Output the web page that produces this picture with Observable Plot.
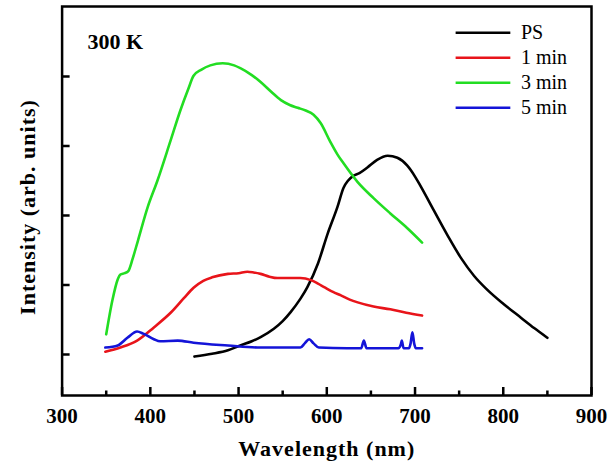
<!DOCTYPE html>
<html><head><meta charset="utf-8">
<script src="https://cdn.jsdelivr.net/npm/d3@7"></script>
<script src="https://cdn.jsdelivr.net/npm/@observablehq/plot@0.6"></script>
<style>
body{margin:0;background:#fff;overflow:hidden}
svg{display:block}
</style>
</head><body><div id="chart"></div>
<script>
// ---- data ----
const seriesNames = ["PS", "1 min", "3 min", "5 min"];
const seriesColors = ["#000000", "#e8141a", "#22dd22", "#1414d8"];

const psNm = [450, 470, 488, 502, 515, 525, 540, 550, 559, 570, 578, 590, 601, 612, 619, 624, 630, 637, 646, 657, 669, 680, 691, 700, 706, 721, 737, 752, 767, 782, 800, 820, 835, 850];
const psVal = [-0.03, 0.01, 0.06, 0.13, 0.19, 0.25, 0.37, 0.48, 0.61, 0.80, 0.97, 1.31, 1.74, 2.12, 2.40, 2.50, 2.57, 2.61, 2.69, 2.80, 2.86, 2.83, 2.72, 2.56, 2.43, 2.08, 1.71, 1.39, 1.13, 0.93, 0.73, 0.53, 0.38, 0.24];

const min1Nm = [349, 366, 385, 404, 423, 438, 449, 460, 470, 488, 500, 510, 517, 525, 535, 544, 557, 570, 582, 590, 597, 607, 616, 626, 635, 653, 672, 690, 708];
const min1Val = [0.04, 0.10, 0.20, 0.39, 0.60, 0.81, 0.96, 1.06, 1.11, 1.16, 1.17, 1.19, 1.18, 1.16, 1.12, 1.10, 1.10, 1.10, 1.07, 1.02, 0.97, 0.90, 0.85, 0.79, 0.75, 0.69, 0.65, 0.60, 0.56];

const min3Nm = [350, 357, 363, 366, 371, 375, 380, 386, 397, 408, 423, 434, 443, 449, 458, 468, 482, 495, 502, 515, 525, 537, 548, 558, 567, 576, 585, 593, 604, 612, 619, 635, 653, 672, 691, 708];
const min3Val = [0.29, 0.78, 1.08, 1.15, 1.17, 1.20, 1.38, 1.64, 2.12, 2.50, 3.08, 3.51, 3.82, 4.01, 4.10, 4.16, 4.19, 4.16, 4.12, 4.02, 3.92, 3.78, 3.66, 3.59, 3.55, 3.51, 3.45, 3.33, 3.06, 2.88, 2.75, 2.48, 2.25, 2.03, 1.82, 1.61];

const min5Nm = [349, 363, 374, 385, 392, 404, 411, 431, 449, 488, 525, 548, 570, 575, 580, 585, 591, 623, 639, 642, 645, 681, 684, 685, 687, 693, 695, 697, 699, 701, 708];
const min5Val = [0.10, 0.13, 0.24, 0.33, 0.30, 0.22, 0.19, 0.20, 0.17, 0.13, 0.10, 0.10, 0.10, 0.16, 0.22, 0.16, 0.10, 0.09, 0.09, 0.20, 0.09, 0.09, 0.15, 0.20, 0.09, 0.09, 0.16, 0.32, 0.16, 0.09, 0.09];

const xMajorTicks = [300, 400, 500, 600, 700, 800, 900];
const xMinorTicks = [350, 450, 550, 650, 750, 850];
const yMajorTicks = [0, 1, 2, 3, 4];

// ---- build rows ----
const seriesData = [[psNm, psVal], [min1Nm, min1Val], [min3Nm, min3Val], [min5Nm, min5Val]];
const rows = seriesData.flatMap(([nm, v], s) => nm.map((x, i) => ({series: seriesNames[s], nm: x, v: v[i]})));

const W = 612, H = 469;
const mL = 61.6, mR = 21, mT = 6, mB = 74;
const frameW = W - mL - mR, frameH = H - mT - mB;

// legend entries (positioned in data space)
const legendRows = seriesNames.map((name, i) => ({name, color: seriesColors[i], y: 4.63 - i * 0.36}));

const chart = Plot.plot({
  width: W, height: H,
  marginLeft: mL, marginRight: mR, marginTop: mT, marginBottom: mB,
  style: {fontFamily: "'Liberation Serif', 'Times New Roman', serif", background: "#fff", color: "#000"},
  x: {domain: [300, 900]},
  y: {domain: [-0.59, 5.007], axis: null},
  color: {domain: seriesNames, range: seriesColors},
  marks: [
    Plot.ruleX(xMajorTicks, {stroke: "#000", strokeWidth: 2.5, insetTop: frameH - 8}),
    Plot.ruleX(xMinorTicks, {stroke: "#000", strokeWidth: 2.5, insetTop: frameH - 4.5}),
    Plot.ruleY(yMajorTicks, {stroke: "#000", strokeWidth: 2.5, insetRight: frameW - 8}),
    Plot.axisX(xMajorTicks, {tickSize: 0, tickPadding: 13, fontSize: 21, fontWeight: "bold", label: null}),
    Plot.line(rows, {x: "nm", y: "v", z: "series", stroke: "series", strokeWidth: 2.6, curve: "monotone-x"}),
    Plot.link(legendRows, {x1: 746, x2: 808, y1: "y", y2: "y", stroke: "color", strokeWidth: 2.6}),
    Plot.text(legendRows, {x: 820, y: "y", text: "name", textAnchor: "start", fontSize: 20, fill: "#000"}),
    Plot.text(["300 K"], {frameAnchor: "top-left", dx: 25.5, dy: 27, text: d => d, textAnchor: "start", fontSize: 22, fontWeight: "bold"}),
    Plot.text(["Wavelength (nm)"], {frameAnchor: "bottom", dy: 60, text: d => d, fontSize: 22, fontWeight: "bold"}),
    Plot.text(["Intensity (arb. units)"], {frameAnchor: "left", dx: -34, dy: 6, rotate: -90, textAnchor: "middle", lineAnchor: "middle", text: d => d, fontSize: 22, fontWeight: "bold"}),
    Plot.frame({stroke: "#000", strokeWidth: 2.5})
  ]
});
document.getElementById("chart").appendChild(chart);
d3.select(chart).selectAll("text").filter(function() {
  const t = this.textContent;
  return t === "Wavelength (nm)" || t === "Intensity (arb. units)";
}).style("letter-spacing", "1px");
</script>
</body></html>
